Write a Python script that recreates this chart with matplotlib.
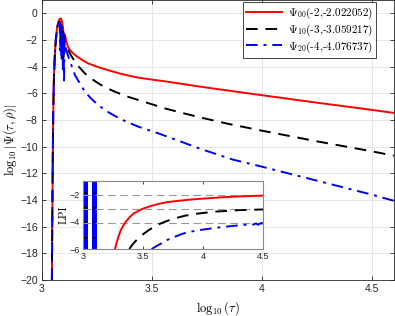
import matplotlib
matplotlib.use("Agg")
import matplotlib.pyplot as plt

plt.rcParams['mathtext.fontset'] = 'cm'
plt.rcParams['font.family'] = ['Liberation Sans', 'DejaVu Sans']

# ---- data ----
labels = [r"$\Psi_{00}$(-2,-2.022052)",
          r"$\Psi_{10}$(-3,-3.059217)",
          r"$\Psi_{20}$(-4,-4.076737)"]
energies = [-2.022052, -3.059217, -4.076737]

# main panel: log10|Psi| against log10(tau)
x00 = [3.045, 3.047, 3.049, 3.051, 3.054, 3.058, 3.063, 3.069, 3.075, 3.080, 3.086, 3.091,
       3.096, 3.100, 3.105, 3.110, 3.118, 3.127, 3.14, 3.16, 3.18, 3.21, 3.25, 3.30,
       3.36, 3.43, 3.50, 3.56, 3.64, 3.72, 3.85, 4.0, 4.25, 4.5, 4.6]
y00 = [-20, -15, -11, -7.5, -5, -3.2, -1.9, -1.0, -0.6, -0.42, -0.38, -0.6,
       -1.2, -1.7, -1.6, -2.1, -2.5, -2.75, -2.98, -3.25, -3.47, -3.75, -4.0, -4.26,
       -4.54, -4.8, -4.97, -5.1, -5.3, -5.5, -5.8, -6.14, -6.7, -7.24, -7.47]

x10 = [3.045, 3.047, 3.049, 3.051, 3.054, 3.058, 3.063, 3.069, 3.075, 3.079, 3.082, 3.085,
       3.088, 3.091, 3.094, 3.097, 3.100, 3.104, 3.112, 3.13, 3.15, 3.17, 3.195, 3.225,
       3.256, 3.29, 3.332, 3.38, 3.438, 3.50, 3.559, 3.64, 3.718, 3.85, 4.0, 4.25,
       4.5, 4.6]
y10 = [-20, -15, -11, -7.5, -5, -3.3, -2.0, -1.1, -0.75, -0.6, -0.65, -2.5,
       -0.9, -3.4, -1.2, -3.75, -1.6, -2.0, -2.5, -3.1, -3.63, -4.05, -4.5, -4.9,
       -5.25, -5.57, -5.88, -6.2, -6.5, -6.82, -7.13, -7.48, -7.8, -8.3, -8.8, -9.6,
       -10.35, -10.68]

x20 = [3.045, 3.047, 3.049, 3.051, 3.054, 3.058, 3.063, 3.069, 3.074, 3.077, 3.080, 3.083,
       3.086, 3.089, 3.092, 3.095, 3.098, 3.100, 3.103, 3.107, 3.113, 3.120, 3.135, 3.15,
       3.17, 3.195, 3.225, 3.256, 3.29, 3.332, 3.38, 3.438, 3.529, 3.62, 3.718, 3.80,
       3.87, 4.0, 4.25, 4.5, 4.6]
y20 = [-20, -15, -11, -7.5, -5, -3.3, -2.0, -1.1, -0.7, -0.5, -0.55, -2.8,
       -0.8, -3.5, -1.0, -4.2, -1.3, -5.25, -1.8, -2.5, -2.9, -3.25, -3.95, -4.63,
       -5.2, -5.88, -6.42, -6.88, -7.3, -7.7, -8.1, -8.5, -9.0, -9.55, -10.15, -10.6,
       -10.98, -11.5, -12.55, -13.6, -14.06]

# inset: LPI against log10(tau)
xi00 = [3.267, 3.28, 3.295, 3.31, 3.33, 3.36, 3.39, 3.42, 3.46, 3.5, 3.56, 3.63,
        3.70, 3.8, 3.9, 4.0, 4.15, 4.3, 4.5]
yi00 = [-6, -5.55, -5.1, -4.72, -4.35, -3.95, -3.65, -3.4, -3.2, -3.03, -2.85, -2.68,
        -2.55, -2.45, -2.36, -2.29, -2.2, -2.13, -2.07]
xi10 = [3.386, 3.41, 3.44, 3.475, 3.51, 3.55, 3.614, 3.68, 3.753, 3.85, 3.95, 4.1,
        4.3, 4.5]
yi10 = [-6, -5.7, -5.4, -5.1, -4.85, -4.6, -4.25, -4.0, -3.77, -3.55, -3.4, -3.25,
        -3.14, -3.09]
xi20 = [3.572, 3.60, 3.65, 3.698, 3.77, 3.836, 3.9, 3.975, 4.1, 4.25, 4.4, 4.42,
        4.44, 4.46, 4.48, 4.5]
yi20 = [-6, -5.85, -5.6, -5.35, -5.08, -4.86, -4.72, -4.6, -4.45, -4.3, -4.18, -4.2,
        -4.12, -4.22, -4.1, -4.15]

# oscillating start of the inset curves (filled bands)
band_x0 = [3.0, 3.072]
band_x1 = [3.044, 3.117]
band_marks = [-1.9, -2.95, -4.0, -5.2]

colors = ['red', 'black', 'blue']
styles = ['-', (0, (6, 4)), (0, (6, 3, 1.5, 3))]

fig = plt.figure(figsize=(3.95, 3.16), dpi=100)
ax = fig.add_axes([0.1063, 0.1139, 0.8912, 0.886])

for xs, ys, c, ls, lab in zip([x00, x10, x20], [y00, y10, y20], colors, styles, labels):
    ax.plot(xs, ys, color=c, linestyle=ls, lw=1.4, label=lab)

ax.set_xlim(3, 4.6)
ax.set_ylim(-20, 1)
ax.set_xticks([3, 3.5, 4, 4.5])
ax.set_xticklabels(['3', '3.5', '4', '4.5'])
ax.set_yticks(range(-20, 1, 2))
ax.grid(True, color='#e3e3e3', lw=0.6)
ax.set_axisbelow(True)
ax.tick_params(direction='in', length=3, width=0.6, top=True, right=True,
               labelsize=7.5, colors='#262626', pad=3)
for s in ax.spines.values():
    s.set_color('#262626')
    s.set_linewidth(0.6)
ax.set_xlabel(r"$\log_{10}(\tau)$", fontsize=9, labelpad=4)
ax.set_ylabel(r"$\log_{10}|\Psi(\tau,\rho)|$", fontsize=9, labelpad=1)

leg = ax.legend(loc='upper right', bbox_to_anchor=(0.949, 0.993),
                prop={'family': 'cmr10', 'size': 8},
                handlelength=3.2, handletextpad=0.5, borderpad=0.3,
                labelspacing=0.15, fancybox=False, framealpha=1,
                edgecolor='#262626', borderaxespad=0)
leg.get_frame().set_linewidth(0.6)

# ---- inset ----
axi = fig.add_axes([0.2101, 0.212, 0.4557, 0.215])
for a, b in zip(band_x0, band_x1):
    axi.axvspan(a, b, color='blue', lw=0)
    axi.hlines(band_marks, a + 0.008, b - 0.008, color='black', lw=1.2)
for e in energies:
    axi.axhline(e, color='#999999', lw=0.8, linestyle=(0, (7, 4)))
for xs, ys, c, ls in zip([xi00, xi10, xi20], [yi00, yi10, yi20], colors, styles):
    axi.plot(xs, ys, color=c, linestyle=ls, lw=1.4)

axi.set_xlim(3, 4.5)
axi.set_ylim(-6, -1)
axi.set_xticks([3, 3.5, 4, 4.5])
axi.set_xticklabels(['3', '3.5', '4', '4.5'])
axi.set_yticks([-6, -4, -2])
axi.tick_params(direction='in', length=2.5, width=0.6, top=True, right=True,
                labelsize=6.5, colors='#262626', pad=2)
for s in axi.spines.values():
    s.set_color('#888888')
    s.set_linewidth(0.8)
axi.set_ylabel("LPI", family='cmr10', fontsize=8, labelpad=1)

fig.savefig("out.png", dpi=100)
